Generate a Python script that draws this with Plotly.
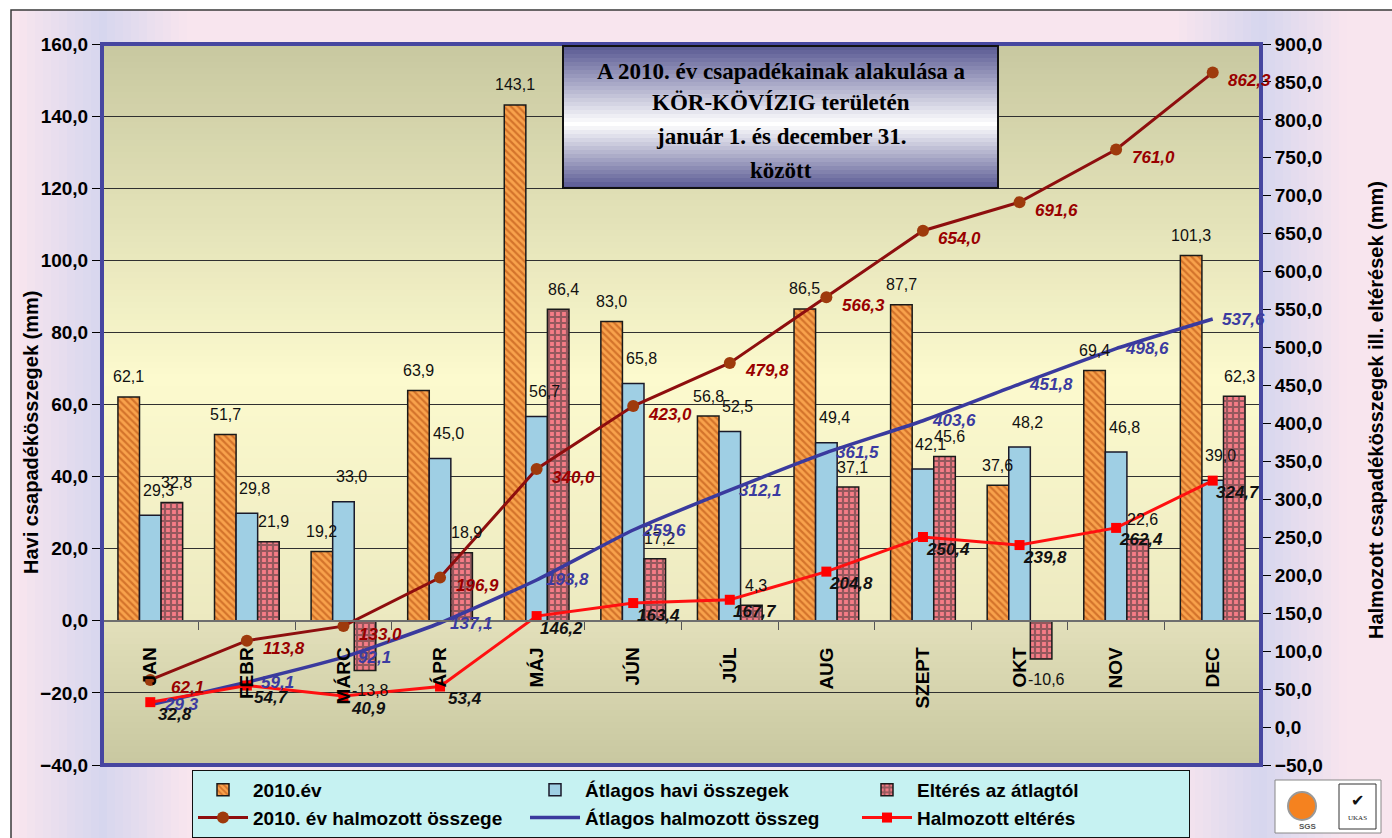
import plotly.graph_objects as go

# ---------------- data ----------------
months = ["JAN", "FEBR", "MÁRC", "ÁPR", "MÁJ", "JÚN", "JÚL", "AUG", "SZEPT", "OKT", "NOV", "DEC"]
rain_2010 = [62.1, 51.7, 19.2, 63.9, 143.1, 83.0, 56.8, 86.5, 87.7, 37.6, 69.4, 101.3]
avg_monthly = [29.3, 29.8, 33.0, 45.0, 56.7, 65.8, 52.5, 49.4, 42.1, 48.2, 46.8, 39.0]
deviation = [32.8, 21.9, -13.8, 18.9, 86.4, 17.2, 4.3, 37.1, 45.6, -10.6, 22.6, 62.3]
cum_2010 = [62.1, 113.8, 133.0, 196.9, 340.0, 423.0, 479.8, 566.3, 654.0, 691.6, 761.0, 862.3]
cum_avg = [29.3, 59.1, 92.1, 137.1, 193.8, 259.6, 312.1, 361.5, 403.6, 451.8, 498.6, 537.6]
cum_dev = [32.8, 54.7, 40.9, 53.4, 146.2, 163.4, 167.7, 204.8, 250.4, 239.8, 262.4, 324.7]
left_ticks = list(range(-40, 161, 20))
right_ticks = list(range(-50, 901, 50))

title_lines = ["A 2010. év csapadékainak alakulása a", "KÖR-KÖVÍZIG területén",
               "január 1. és december 31.", "között"]

# ---------------- geometry helpers ----------------
W, H = 1392, 838
L, R, T, B = 102, 131, 44, 73
PW, PH = W - L - R, H - T - B


def px(x):
    return (x - L) / PW


def py(y):
    return (H - B - y) / PH


def fmt(v):
    return f"{v:.1f}".replace(".", ",")


def blend(c1, c2, t):
    t = max(0.0, min(1.0, t))
    return "rgb(%d,%d,%d)" % tuple(round(a + (b - a) * t) for a, b in zip(c1, c2))


def interp(stops, y):
    for (y0, c0), (y1, c1) in zip(stops, stops[1:]):
        if y0 <= y <= y1:
            return blend(c0, c1, (y - y0) / (y1 - y0) if y1 > y0 else 0)
    return blend(stops[-1][1], stops[-1][1], 0)


SANS = "Liberation Sans, Arial, sans-serif"
SERIF = "Liberation Serif, Times New Roman, serif"

fig = go.Figure()

# ---------------- bars ----------------
fig.add_trace(go.Bar(
    x=months, y=rain_2010, name="2010.év",
    marker=dict(color="#F7A04A", line=dict(color="#1a1a1a", width=1.5),
                pattern=dict(shape="\\", fgcolor="#B0440A", bgcolor="#F8A24C",
                             size=5, solidity=0.45)),
))
fig.add_trace(go.Bar(
    x=months, y=avg_monthly, name="Átlagos havi összegek",
    marker=dict(color="#9FCFE4", line=dict(color="#1a1a2a", width=1.5)),
))
fig.add_trace(go.Bar(
    x=months, y=deviation, name="Eltérés az átlagtól",
    marker=dict(color="#F57C86", line=dict(color="#1a1a1a", width=1.5),
                pattern=dict(shape="+", fgcolor="#333333", bgcolor="#F57C86",
                             size=6, solidity=0.6)),
))

# ---------------- lines ----------------
fig.add_trace(go.Scatter(
    x=months, y=cum_2010, name="2010. év halmozott összege", yaxis="y2",
    mode="lines+markers",
    line=dict(color="#8E0E0E", width=3),
    marker=dict(symbol="circle", size=12, color="#9E3A0C"),
))
fig.add_trace(go.Scatter(
    x=months, y=cum_avg, name="Átlagos halmozott összeg", yaxis="y2",
    mode="lines",
    line=dict(color="#3A3A9E", width=3.5, shape="spline", smoothing=0.5),
))
fig.add_trace(go.Scatter(
    x=months, y=cum_dev, name="Halmozott eltérés", yaxis="y2",
    mode="lines+markers",
    line=dict(color="#FF1010", width=3),
    marker=dict(symbol="square", size=10, color="#FF0000"),
))

# ---------------- annotations: values ----------------
ann = []
bar_w = PW / 12 * (1 - 0.33) / 3
bar_series = [
    (rain_2010, -bar_w, 20),
    (avg_monthly, 8, 25),
    (deviation, bar_w + 5, 20),
]
for vals, xs, ys in bar_series:
    for m, v in zip(months, vals):
        ann.append(dict(x=m, y=v, xref="x", yref="y", text=fmt(v), showarrow=False,
                        xanchor="center", yanchor="middle",
                        xshift=xs, yshift=ys if v >= 0 else -ys,
                        font=dict(family=SANS, size=16, color="#111111")))

line_series = [
    (cum_2010, 37, -8, "#990000"),
    (cum_avg, 31, 0, "#3B3BA0"),
    (cum_dev, 25, -12, "#111111"),
]
for vals, xs, ys, col in line_series:
    for m, v in zip(months, vals):
        ann.append(dict(x=m, y=v, xref="x", yref="y2", text=fmt(v), showarrow=False,
                        xanchor="center", yanchor="middle",
                        xshift=xs, yshift=ys,
                        font=dict(family=SANS, size=17, color=col, weight="bold", style="italic")))

# axis titles
ann.append(dict(x=px(31), y=py(433), xref="paper", yref="paper", showarrow=False,
                xanchor="center", yanchor="middle",
                text="Havi csapadékösszegek (mm)", textangle=-90,
                font=dict(family=SANS, size=20, color="black", weight="bold")))
ann.append(dict(x=px(1376), y=py(410), xref="paper", yref="paper", showarrow=False,
                xanchor="center", yanchor="middle",
                text="Halmozott csapadékösszegek ill. eltérések (mm)", textangle=-90,
                font=dict(family=SANS, size=20, color="black", weight="bold")))

# title lines
for line, yy in zip(title_lines, [72, 103, 136, 170]):
    ann.append(dict(x=px(781), y=py(yy), xref="paper", yref="paper", showarrow=False,
                    xanchor="center", yanchor="middle",
                    text=line, font=dict(family=SERIF, size=23, color="black", weight="bold")))

# logo texts
ann.append(dict(x=px(1308), y=py(826), xref="paper", yref="paper", showarrow=False,
                xanchor="center", yanchor="middle",
                text="SGS", font=dict(family=SANS, size=8, color="#555555", weight="bold")))
ann.append(dict(x=px(1357), y=py(818), xref="paper", yref="paper", showarrow=False,
                xanchor="center", yanchor="middle",
                text="UKAS", font=dict(family=SERIF, size=7, color="#222222")))
ann.append(dict(x=px(1357), y=py(800), xref="paper", yref="paper", showarrow=False,
                xanchor="center", yanchor="middle",
                text="✔", font=dict(family="DejaVu Sans", size=16, color="#111111")))

# ---------------- shapes: backgrounds ----------------
shapes = []
pink = (248, 229, 238)
lav = (214, 214, 238)
step = 8
x0 = 11
while x0 < W + 20:
    x1 = x0 + step
    xc = (x0 + x1) / 2
    d = min(abs(xc - L), abs(xc - (W - R)))
    col = blend(lav, pink, d / 85)
    shapes.append(dict(type="rect", xref="paper", yref="paper", layer="below",
                       x0=px(x0), x1=px(x1 + 1), y0=py(H + 20), y1=py(10),
                       fillcolor=col, line=dict(width=0)))
    x0 = x1
shapes.append(dict(type="rect", xref="paper", yref="paper", layer="below",
                   x0=px(11), x1=px(W + 20), y0=py(H + 20), y1=py(10),
                   fillcolor="rgba(0,0,0,0)", line=dict(color="#3a3a3a", width=1.5)))

plot_stops = [(44, (200, 200, 160)), (380, (252, 250, 206)), (621, (236, 233, 192)),
              (622, (226, 223, 186)), (765, (200, 199, 160))]
y0 = 44
while y0 < 765:
    y1 = min(765, y0 + 6)
    shapes.append(dict(type="rect", xref="paper", yref="paper", layer="below",
                       x0=0, x1=1, y0=py(min(765, y1 + 1)), y1=py(y0),
                       fillcolor=interp(plot_stops, (y0 + y1) / 2), line=dict(width=0)))
    y0 = y1

# plot border
shapes.append(dict(type="rect", xref="paper", yref="paper", layer="above",
                   x0=0, x1=1, y0=0, y1=1, fillcolor="rgba(0,0,0,0)",
                   line=dict(color="#4646A0", width=4)))

# title box gradient
tb_stops = [(46, (88, 88, 146)), (124, (255, 255, 255)), (188, (88, 88, 146))]
y0 = 46
while y0 < 188:
    y1 = min(188, y0 + 4)
    shapes.append(dict(type="rect", xref="paper", yref="paper", layer="above",
                       x0=px(563), x1=px(998), y0=py(min(188, y1 + 1)), y1=py(y0),
                       fillcolor=interp(tb_stops, (y0 + y1) / 2), line=dict(width=0)))
    y0 = y1
shapes.append(dict(type="rect", xref="paper", yref="paper", layer="above",
                   x0=px(563), x1=px(998), y0=py(188), y1=py(46),
                   fillcolor="rgba(0,0,0,0)", line=dict(color="#111111", width=2)))

# logo
shapes.append(dict(type="rect", xref="paper", yref="paper", layer="above",
                   x0=px(1275), x1=px(1381), y0=py(833), y1=py(780),
                   fillcolor="white", line=dict(color="#888888", width=1)))
shapes.append(dict(type="rect", xref="paper", yref="paper", layer="above",
                   x0=px(1339), x1=px(1376), y0=py(829), y1=py(784),
                   fillcolor="white", line=dict(color="#333333", width=1)))
shapes.append(dict(type="circle", xref="paper", yref="paper", layer="above",
                   x0=px(1288), x1=px(1316), y0=py(820), y1=py(792),
                   fillcolor="#F5821F", line=dict(color="#999999", width=2)))

# ---------------- layout ----------------
fig.update_layout(
    width=W, height=H,
    margin=dict(l=L, r=R, t=T, b=B, autoexpand=False),
    paper_bgcolor="white", plot_bgcolor="rgba(0,0,0,0)",
    separators=", ",
    barmode="group", bargap=0.33, bargroupgap=0,
    showlegend=True,
    legend=dict(orientation="h", x=px(192), y=py(770), xanchor="left", yanchor="top",
                bgcolor="#C6F2F2", bordercolor="#111111", borderwidth=1,
                font=dict(family=SANS, size=19, color="black", weight="bold"),
                entrywidth=267, itemwidth=50, traceorder="normal"),
    xaxis=dict(type="category", categoryorder="array", categoryarray=months,
               range=[-0.5, 11.5], anchor="free", position=0.2,
               showline=True, linecolor="#6e6e6e", linewidth=2,
               ticks="outside", tickson="boundaries", ticklen=8, tickcolor="#555555",
               tickangle=-90, ticklabelstandoff=18,
               tickfont=dict(family=SANS, size=19, color="black", weight="bold"),
               showgrid=False, zeroline=False),
    yaxis=dict(range=[-40, 160], tickvals=left_ticks, tickformat=".1f",
               showgrid=True, gridcolor="#303030", gridwidth=1, zeroline=False,
               ticks="outside", ticklen=9, tickcolor="black", showline=False,
               tickfont=dict(family=SANS, size=19, color="black", weight="bold")),
    yaxis2=dict(range=[-50, 900], tickvals=right_ticks, tickformat=".1f",
                overlaying="y", side="right", showgrid=False, zeroline=False,
                ticks="outside", ticklen=9, tickcolor="black", showline=False,
                tickfont=dict(family=SANS, size=19, color="black", weight="bold")),
    annotations=ann,
    shapes=shapes,
)

fig.write_html("out.html", config={"displayModeBar": False},
               post_script="document.body.style.margin='0px';document.body.style.overflow='hidden';")
